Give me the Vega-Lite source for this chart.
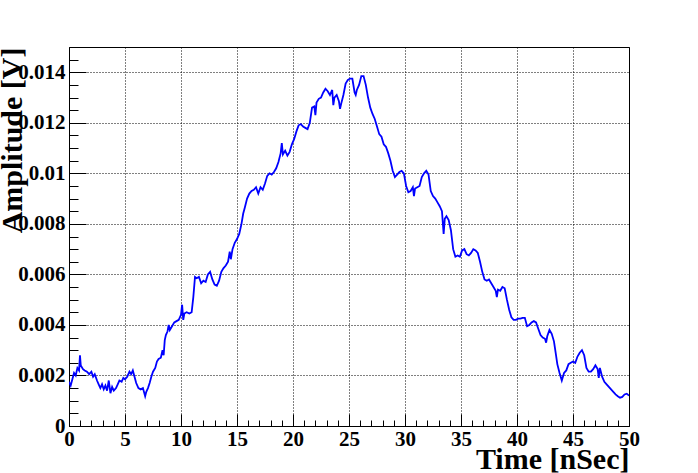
{
  "$schema": "https://vega.github.io/schema/vega-lite/v6.json",
  "width": 560,
  "height": 379,
  "autosize": {"type": "none"},
  "padding": {"left": 69, "top": 47, "right": 69, "bottom": 47},
  "background": "white",
  "view": {"stroke": "black", "strokeWidth": 1},
  "config": {
    "axis": {
      "labelFont": "Liberation Serif", "labelFontWeight": "bold", "labelFontSize": 21, "labelColor": "black",
      "titleFont": "Liberation Serif", "titleFontWeight": "bold", "titleFontSize": 30, "titleColor": "black",
      "domainColor": "black", "domainWidth": 1, "tickColor": "black", "tickWidth": 1
    }
  },
  "data": {
    "values": [
      {"t": 0.0, "v": 0.00175}, {"t": 0.15, "v": 0.0016}, {"t": 0.3, "v": 0.00185}, {"t": 0.45, "v": 0.0021},
      {"t": 0.6, "v": 0.002}, {"t": 0.75, "v": 0.0023}, {"t": 0.9, "v": 0.0022}, {"t": 0.98, "v": 0.0028},
      {"t": 1.05, "v": 0.0024}, {"t": 1.25, "v": 0.00225}, {"t": 1.4, "v": 0.0022}, {"t": 1.6, "v": 0.00215},
      {"t": 1.8, "v": 0.00205}, {"t": 2.0, "v": 0.00215}, {"t": 2.15, "v": 0.00195}, {"t": 2.3, "v": 0.00205},
      {"t": 2.5, "v": 0.0018}, {"t": 2.65, "v": 0.00165}, {"t": 2.8, "v": 0.0015}, {"t": 2.95, "v": 0.00165},
      {"t": 3.1, "v": 0.00145}, {"t": 3.25, "v": 0.0016}, {"t": 3.4, "v": 0.0014}, {"t": 3.55, "v": 0.0018},
      {"t": 3.7, "v": 0.0013}, {"t": 3.85, "v": 0.00155}, {"t": 4.0, "v": 0.0014}, {"t": 4.2, "v": 0.0015},
      {"t": 4.35, "v": 0.00165}, {"t": 4.5, "v": 0.0018}, {"t": 4.7, "v": 0.00175}, {"t": 4.85, "v": 0.0019},
      {"t": 5.0, "v": 0.00185}, {"t": 5.2, "v": 0.00195}, {"t": 5.4, "v": 0.00215}, {"t": 5.55, "v": 0.00205},
      {"t": 5.7, "v": 0.0022}, {"t": 5.85, "v": 0.00195}, {"t": 6.0, "v": 0.0017}, {"t": 6.2, "v": 0.0015},
      {"t": 6.4, "v": 0.00145}, {"t": 6.6, "v": 0.0015}, {"t": 6.8, "v": 0.00118}, {"t": 6.9, "v": 0.00135},
      {"t": 7.05, "v": 0.0015}, {"t": 7.2, "v": 0.0017}, {"t": 7.35, "v": 0.00195}, {"t": 7.5, "v": 0.00215},
      {"t": 7.7, "v": 0.0023}, {"t": 7.85, "v": 0.00255}, {"t": 8.0, "v": 0.00265}, {"t": 8.2, "v": 0.0027},
      {"t": 8.35, "v": 0.003}, {"t": 8.45, "v": 0.0028}, {"t": 8.55, "v": 0.0034}, {"t": 8.65, "v": 0.0036},
      {"t": 8.8, "v": 0.00375}, {"t": 8.9, "v": 0.004}, {"t": 9.0, "v": 0.0038}, {"t": 9.2, "v": 0.00395},
      {"t": 9.4, "v": 0.0041}, {"t": 9.6, "v": 0.00415}, {"t": 9.8, "v": 0.0042}, {"t": 10.0, "v": 0.0044},
      {"t": 10.1, "v": 0.0048}, {"t": 10.2, "v": 0.0042}, {"t": 10.3, "v": 0.00445}, {"t": 10.5, "v": 0.0045},
      {"t": 10.75, "v": 0.00445}, {"t": 10.95, "v": 0.0045}, {"t": 11.1, "v": 0.0051}, {"t": 11.25, "v": 0.0059},
      {"t": 11.4, "v": 0.00585}, {"t": 11.6, "v": 0.0059}, {"t": 11.8, "v": 0.00565}, {"t": 12.0, "v": 0.00575},
      {"t": 12.2, "v": 0.0057}, {"t": 12.4, "v": 0.006}, {"t": 12.6, "v": 0.0061}, {"t": 12.8, "v": 0.0058},
      {"t": 13.0, "v": 0.0056}, {"t": 13.2, "v": 0.00555}, {"t": 13.4, "v": 0.00575}, {"t": 13.6, "v": 0.0061},
      {"t": 13.8, "v": 0.00625}, {"t": 14.0, "v": 0.00635}, {"t": 14.2, "v": 0.0065}, {"t": 14.35, "v": 0.0069},
      {"t": 14.45, "v": 0.0066}, {"t": 14.6, "v": 0.007}, {"t": 14.8, "v": 0.00725}, {"t": 15.0, "v": 0.0074},
      {"t": 15.2, "v": 0.0076}, {"t": 15.4, "v": 0.008}, {"t": 15.55, "v": 0.0084}, {"t": 15.7, "v": 0.00865},
      {"t": 15.9, "v": 0.009}, {"t": 16.1, "v": 0.0092}, {"t": 16.3, "v": 0.0093}, {"t": 16.5, "v": 0.00935},
      {"t": 16.7, "v": 0.00945}, {"t": 16.9, "v": 0.0092}, {"t": 17.1, "v": 0.00945}, {"t": 17.3, "v": 0.00935},
      {"t": 17.5, "v": 0.0096}, {"t": 17.7, "v": 0.0099}, {"t": 17.9, "v": 0.01}, {"t": 18.1, "v": 0.00995},
      {"t": 18.3, "v": 0.01005}, {"t": 18.5, "v": 0.0102}, {"t": 18.7, "v": 0.01045}, {"t": 18.9, "v": 0.0108},
      {"t": 19.0, "v": 0.0112}, {"t": 19.1, "v": 0.01075}, {"t": 19.3, "v": 0.0109}, {"t": 19.5, "v": 0.0107},
      {"t": 19.7, "v": 0.01085}, {"t": 19.9, "v": 0.01115}, {"t": 20.1, "v": 0.01135}, {"t": 20.3, "v": 0.01165},
      {"t": 20.5, "v": 0.0119}, {"t": 20.7, "v": 0.01195}, {"t": 20.9, "v": 0.01185}, {"t": 21.1, "v": 0.0118},
      {"t": 21.3, "v": 0.01175}, {"t": 21.5, "v": 0.012}, {"t": 21.7, "v": 0.0126}, {"t": 21.9, "v": 0.01265},
      {"t": 22.0, "v": 0.0123}, {"t": 22.1, "v": 0.0128}, {"t": 22.3, "v": 0.01295}, {"t": 22.5, "v": 0.013},
      {"t": 22.7, "v": 0.0132}, {"t": 22.9, "v": 0.01335}, {"t": 23.1, "v": 0.01325}, {"t": 23.3, "v": 0.0131},
      {"t": 23.5, "v": 0.0133}, {"t": 23.6, "v": 0.0127}, {"t": 23.7, "v": 0.013}, {"t": 23.9, "v": 0.0131},
      {"t": 24.1, "v": 0.01285}, {"t": 24.2, "v": 0.01255}, {"t": 24.3, "v": 0.01275}, {"t": 24.5, "v": 0.0131},
      {"t": 24.7, "v": 0.01355}, {"t": 24.9, "v": 0.0137}, {"t": 25.1, "v": 0.01375}, {"t": 25.3, "v": 0.01375},
      {"t": 25.5, "v": 0.0132}, {"t": 25.6, "v": 0.0131}, {"t": 25.7, "v": 0.0133}, {"t": 25.9, "v": 0.0135},
      {"t": 26.1, "v": 0.01385}, {"t": 26.3, "v": 0.01385}, {"t": 26.5, "v": 0.0135}, {"t": 26.7, "v": 0.013},
      {"t": 26.9, "v": 0.0126}, {"t": 27.1, "v": 0.01235}, {"t": 27.3, "v": 0.01215}, {"t": 27.5, "v": 0.01185},
      {"t": 27.7, "v": 0.01155}, {"t": 27.9, "v": 0.01145}, {"t": 28.1, "v": 0.01115}, {"t": 28.3, "v": 0.01105},
      {"t": 28.5, "v": 0.0108}, {"t": 28.7, "v": 0.0105}, {"t": 28.9, "v": 0.0101}, {"t": 29.1, "v": 0.00985},
      {"t": 29.3, "v": 0.00995}, {"t": 29.5, "v": 0.01005}, {"t": 29.7, "v": 0.0101}, {"t": 29.9, "v": 0.01},
      {"t": 30.1, "v": 0.0095}, {"t": 30.3, "v": 0.00925}, {"t": 30.5, "v": 0.0093}, {"t": 30.7, "v": 0.00945},
      {"t": 30.8, "v": 0.0091}, {"t": 30.9, "v": 0.0094}, {"t": 31.1, "v": 0.00945}, {"t": 31.3, "v": 0.0095},
      {"t": 31.5, "v": 0.00985}, {"t": 31.7, "v": 0.01}, {"t": 31.9, "v": 0.0101}, {"t": 32.1, "v": 0.00995},
      {"t": 32.3, "v": 0.0093}, {"t": 32.5, "v": 0.0091}, {"t": 32.7, "v": 0.009}, {"t": 32.9, "v": 0.00885},
      {"t": 33.1, "v": 0.0087}, {"t": 33.3, "v": 0.0085}, {"t": 33.45, "v": 0.0076}, {"t": 33.55, "v": 0.0082},
      {"t": 33.7, "v": 0.0083}, {"t": 33.9, "v": 0.00815}, {"t": 34.1, "v": 0.00775}, {"t": 34.3, "v": 0.007},
      {"t": 34.5, "v": 0.0067}, {"t": 34.7, "v": 0.00675}, {"t": 34.9, "v": 0.0067}, {"t": 35.1, "v": 0.00695},
      {"t": 35.3, "v": 0.007}, {"t": 35.5, "v": 0.0068}, {"t": 35.7, "v": 0.00675}, {"t": 35.9, "v": 0.00685},
      {"t": 36.1, "v": 0.007}, {"t": 36.3, "v": 0.00695}, {"t": 36.5, "v": 0.00685}, {"t": 36.7, "v": 0.0065},
      {"t": 36.9, "v": 0.0061}, {"t": 37.1, "v": 0.0058}, {"t": 37.3, "v": 0.00575}, {"t": 37.5, "v": 0.0058},
      {"t": 37.7, "v": 0.00565}, {"t": 37.9, "v": 0.0055}, {"t": 38.1, "v": 0.00535}, {"t": 38.2, "v": 0.0051},
      {"t": 38.3, "v": 0.0054}, {"t": 38.5, "v": 0.00535}, {"t": 38.7, "v": 0.0055}, {"t": 38.9, "v": 0.00545},
      {"t": 39.1, "v": 0.005}, {"t": 39.3, "v": 0.0046}, {"t": 39.5, "v": 0.0043}, {"t": 39.7, "v": 0.0042},
      {"t": 39.9, "v": 0.0042}, {"t": 40.1, "v": 0.00425}, {"t": 40.3, "v": 0.00425}, {"t": 40.5, "v": 0.00428},
      {"t": 40.7, "v": 0.00428}, {"t": 40.9, "v": 0.00395}, {"t": 41.1, "v": 0.004}, {"t": 41.3, "v": 0.0041},
      {"t": 41.5, "v": 0.00415}, {"t": 41.7, "v": 0.0041}, {"t": 41.9, "v": 0.00385}, {"t": 42.1, "v": 0.0036},
      {"t": 42.3, "v": 0.0035}, {"t": 42.5, "v": 0.00345}, {"t": 42.6, "v": 0.0033}, {"t": 42.7, "v": 0.00355},
      {"t": 42.9, "v": 0.0038}, {"t": 43.1, "v": 0.00365}, {"t": 43.3, "v": 0.00335}, {"t": 43.45, "v": 0.0029},
      {"t": 43.6, "v": 0.00245}, {"t": 43.8, "v": 0.0021}, {"t": 44.0, "v": 0.0018}, {"t": 44.2, "v": 0.0021},
      {"t": 44.4, "v": 0.0022}, {"t": 44.6, "v": 0.00245}, {"t": 44.8, "v": 0.0025}, {"t": 45.0, "v": 0.00255},
      {"t": 45.2, "v": 0.0025}, {"t": 45.4, "v": 0.00275}, {"t": 45.6, "v": 0.0029}, {"t": 45.8, "v": 0.003},
      {"t": 46.0, "v": 0.0028}, {"t": 46.2, "v": 0.0023}, {"t": 46.4, "v": 0.00215}, {"t": 46.6, "v": 0.00215},
      {"t": 46.8, "v": 0.00225}, {"t": 47.0, "v": 0.0024}, {"t": 47.2, "v": 0.00225}, {"t": 47.3, "v": 0.0019},
      {"t": 47.4, "v": 0.0023}, {"t": 47.6, "v": 0.00195}, {"t": 47.8, "v": 0.00175}, {"t": 48.0, "v": 0.00165},
      {"t": 48.2, "v": 0.00155}, {"t": 48.4, "v": 0.00145}, {"t": 48.6, "v": 0.00135}, {"t": 48.8, "v": 0.00125},
      {"t": 49.0, "v": 0.00118}, {"t": 49.2, "v": 0.00112}, {"t": 49.4, "v": 0.00115}, {"t": 49.6, "v": 0.00125},
      {"t": 49.8, "v": 0.00128}, {"t": 50.0, "v": 0.0012}
    ]
  },
  "resolve": {"axis": {"x": "independent", "y": "independent"}},
  "layer": [
    {
      "mark": {"type": "line", "strokeOpacity": 0},
      "encoding": {
        "x": {
          "field": "t", "type": "quantitative",
          "scale": {"domain": [0, 50], "nice": false, "zero": false},
          "axis": {
            "orient": "bottom", "title": null, "labels": false, "grid": false, "domain": false,
            "values": [1,2,3,4,6,7,8,9,11,12,13,14,16,17,18,19,21,22,23,24,26,27,28,29,31,32,33,34,36,37,38,39,41,42,43,44,46,47,48,49],
            "tickSize": -6
          }
        },
        "y": {
          "field": "v", "type": "quantitative",
          "scale": {"domain": [0, 0.015], "nice": false, "zero": false},
          "axis": {
            "orient": "left", "title": null, "labels": false, "grid": false, "domain": false,
            "values": [0.0005,0.001,0.0015,0.0025,0.003,0.0035,0.0045,0.005,0.0055,0.0065,0.007,0.0075,0.0085,0.009,0.0095,0.0105,0.011,0.0115,0.0125,0.013,0.0135,0.0145],
            "tickSize": -9
          }
        }
      }
    },
    {
      "mark": {"type": "line", "color": "#0000ff", "strokeWidth": 1.8, "clip": true},
      "encoding": {
        "x": {
          "field": "t", "type": "quantitative",
          "axis": {
            "orient": "bottom",
            "title": "Time [nSec]",
            "values": [0,5,10,15,20,25,30,35,40,45,50],
            "format": "d",
            "labelPadding": 14, "labelFlush": false, "labelOverlap": false,
            "tickSize": -12,
            "grid": true, "gridColor": "black", "gridDash": [1, 2], "gridWidth": 1, "gridOpacity": 1,
            "titleAnchor": "end", "titleAlign": "right", "titleBaseline": "alphabetic", "titleX": 560, "titleY": 42
          }
        },
        "y": {
          "field": "v", "type": "quantitative",
          "axis": {
            "orient": "left",
            "title": "Amplitude [V]",
            "values": [0,0.002,0.004,0.006,0.008,0.01,0.012,0.014],
            "labelExpr": "format(datum.value, '~g')",
            "labelPadding": 21, "labelFlush": false, "labelOverlap": false,
            "tickSize": -17,
            "grid": true, "gridColor": "black", "gridDash": [1, 2], "gridWidth": 1, "gridOpacity": 1,
            "titleAnchor": "end", "titleAngle": -90, "titleAlign": "right", "titleBaseline": "alphabetic", "titleX": -48, "titleY": 0
          }
        }
      }
    }
  ]
}
